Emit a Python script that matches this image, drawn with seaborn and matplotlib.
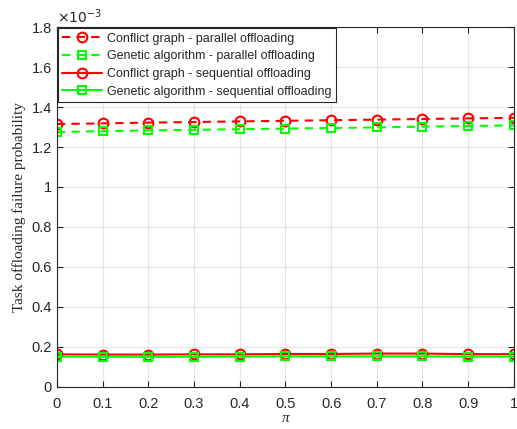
import seaborn as sns
import matplotlib.pyplot as plt
import pandas as pd

# --- data (values in units of 1e-3) ---
pi_vals = [0, 0.1, 0.2, 0.3, 0.4, 0.5, 0.6, 0.7, 0.8, 0.9, 1.0]
cg_parallel = [1.315, 1.318, 1.322, 1.325, 1.328, 1.331, 1.334, 1.337, 1.340, 1.343, 1.346]
ga_parallel = [1.275, 1.279, 1.283, 1.286, 1.289, 1.292, 1.295, 1.298, 1.302, 1.305, 1.308]
cg_sequential = [0.163, 0.162, 0.162, 0.163, 0.163, 0.165, 0.165, 0.167, 0.167, 0.164, 0.164]
ga_sequential = [0.152, 0.151, 0.151, 0.151, 0.152, 0.153, 0.153, 0.153, 0.153, 0.152, 0.152]

labels = ["Conflict graph - parallel offloading",
          "Genetic algorithm - parallel offloading",
          "Conflict graph - sequential offloading",
          "Genetic algorithm - sequential offloading"]
series = [cg_parallel, ga_parallel, cg_sequential, ga_sequential]

rows = []
for lab, vals in zip(labels, series):
    for x, v in zip(pi_vals, vals):
        rows.append({"pi": x, "p": v, "series": lab})
df = pd.DataFrame(rows)

sns.set_style("whitegrid")
plt.rcParams["font.family"] = ["Liberation Sans", "DejaVu Sans"]

fig = plt.figure(figsize=(5.17, 4.29), dpi=100)
ax = fig.add_axes([0.110, 0.098, 0.884, 0.839])

colors = ["#ff0000", "#00ff00", "#ff0000", "#00ff00"]
markers = ["o", "s", "o", "s"]
styles = [(0, (4, 3)), (0, (4, 3)), "-", "-"]
for lab, c, m, ls in zip(labels, colors, markers, styles):
    sns.lineplot(data=df[df["series"] == lab], x="pi", y="p", ax=ax, color=c,
                 marker=m, linestyle=ls, linewidth=1.5, markersize=7 if m == "o" else 5.5,
                 markerfacecolor="none", markeredgecolor=c, markeredgewidth=1.5,
                 label=lab)

ax.set_xlim(0, 1)
ax.set_ylim(0, 1.8)
ax.set_xticks(pi_vals)
ax.set_xticklabels(["0", "0.1", "0.2", "0.3", "0.4", "0.5", "0.6", "0.7", "0.8", "0.9", "1"])
ax.set_yticks([0, 0.2, 0.4, 0.6, 0.8, 1.0, 1.2, 1.4, 1.6, 1.8])
ax.set_yticklabels(["0", "0.2", "0.4", "0.6", "0.8", "1", "1.2", "1.4", "1.6", "1.8"])
ax.tick_params(labelsize=10.5, colors="#262626", direction="in", length=4,
               top=True, right=True, bottom=True, left=True)
ax.tick_params(axis="x", pad=7)
ax.grid(True, color="#e3e3e3", linewidth=0.8)
for s in ax.spines.values():
    s.set_color("#262626")
    s.set_linewidth(0.8)

ax.set_xlabel("π", fontsize=11, family="Liberation Serif", style="italic", labelpad=1)
ax.set_ylabel("Task offloading failure probability", fontsize=11,
              family="Liberation Serif")
ax.text(0, 1.003, r"$\times10^{-3}$", transform=ax.transAxes, fontsize=10,
        color="#262626", va="bottom", ha="left")

leg = ax.legend(loc="upper left", fontsize=9, frameon=True, fancybox=False,
                edgecolor="#262626", framealpha=1, borderaxespad=0.1,
                handlelength=3.2, borderpad=0.35, labelspacing=0.45, handletextpad=0.4)
leg.get_frame().set_linewidth(0.8)

plt.savefig("out.png", dpi=100)
plt.close()
